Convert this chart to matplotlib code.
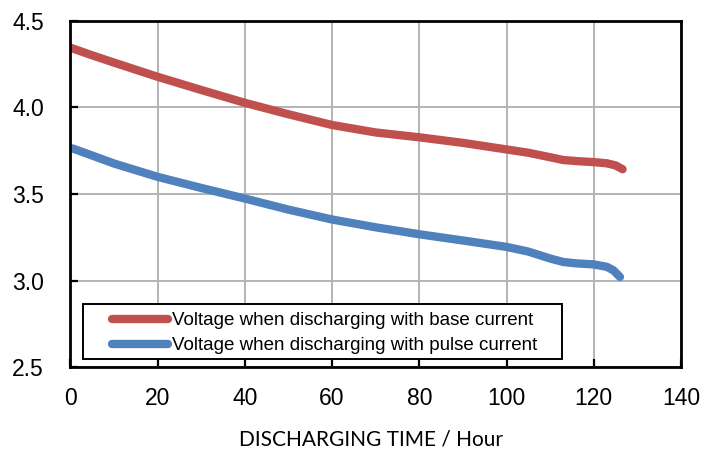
import matplotlib
matplotlib.use("Agg")
import matplotlib.pyplot as plt
from matplotlib.patches import Rectangle

# Data
base_hours = [0, 5, 10, 20, 30, 40, 50, 60, 70, 80, 90, 100, 105, 110, 113, 116, 120, 123, 125, 126.6]
base_volts = [4.344, 4.30, 4.258, 4.176, 4.10, 4.026, 3.96, 3.898, 3.855, 3.827, 3.795, 3.757,
              3.738, 3.712, 3.696, 3.690, 3.684, 3.677, 3.665, 3.643]
pulse_hours = [0.5, 5, 10, 20, 30, 40, 50, 60, 70, 80, 90, 100, 105, 110, 113, 116, 120, 123, 124.5, 126]
pulse_volts = [3.763, 3.722, 3.676, 3.599, 3.535, 3.474, 3.41, 3.353, 3.308, 3.268, 3.232, 3.195,
               3.168, 3.128, 3.108, 3.100, 3.094, 3.080, 3.060, 3.022]
label_base = "Voltage when discharging with base current"
label_pulse = "Voltage when discharging with pulse current"
x_ticks = [0, 20, 40, 60, 80, 100, 120, 140]
y_ticks = [2.5, 3.0, 3.5, 4.0, 4.5]
x_label = "DISCHARGING TIME / Hour"

RED = "#C0504D"
BLUE = "#4F81BD"

fig = plt.figure(figsize=(7.01, 4.49), dpi=100)
ax = fig.add_axes([0.1003, 0.1817, 0.8712, 0.7724])

l1, = ax.plot(base_hours, base_volts, color=RED, lw=6.0, solid_capstyle="round",
              solid_joinstyle="round", label=label_base, zorder=3)
l2, = ax.plot(pulse_hours, pulse_volts, color=BLUE, lw=6.0, solid_capstyle="round",
              solid_joinstyle="round", label=label_pulse, zorder=3)

ax.set_xlim(0, 140)
ax.set_ylim(2.5, 4.5)
ax.set_xticks(x_ticks)
ax.set_yticks(y_ticks)
ax.set_xticklabels([str(v) for v in x_ticks], fontfamily="Liberation Sans", fontsize=16.5)
ax.set_yticklabels([f"{v:.1f}" for v in y_ticks], fontfamily="Liberation Sans", fontsize=16.5)
ax.grid(True, color="#b3b3b3", lw=1.4, zorder=1)
ax.set_axisbelow(True)
for s in ax.spines.values():
    s.set_linewidth(2.0)
    s.set_color("black")
    s.set_zorder(4)
ax.tick_params(direction="in", length=6, width=1.6, colors="black")
ax.tick_params(axis="x", pad=14)
ax.tick_params(axis="y", pad=19)

ax.set_xlabel(x_label, fontfamily="Lato", fontsize=15)
ax.xaxis.set_label_coords(0.493, -0.178)

# legend frame and entries
ax.add_patch(Rectangle((0.0208, 0.0242), 0.7843, 0.159, transform=ax.transAxes,
                       facecolor="white", edgecolor="black", lw=1.4, zorder=5))
leg = ax.legend(handles=[l1, l2], loc="center left", bbox_to_anchor=(0.0680, 0.0985),
                frameon=False, borderpad=0, borderaxespad=0,
                prop={"family": "Liberation Sans", "size": 13.5},
                handlelength=3.0, handletextpad=0.2, labelspacing=0.43)
leg.set_zorder(6)

fig.savefig("out.png", dpi=100)
